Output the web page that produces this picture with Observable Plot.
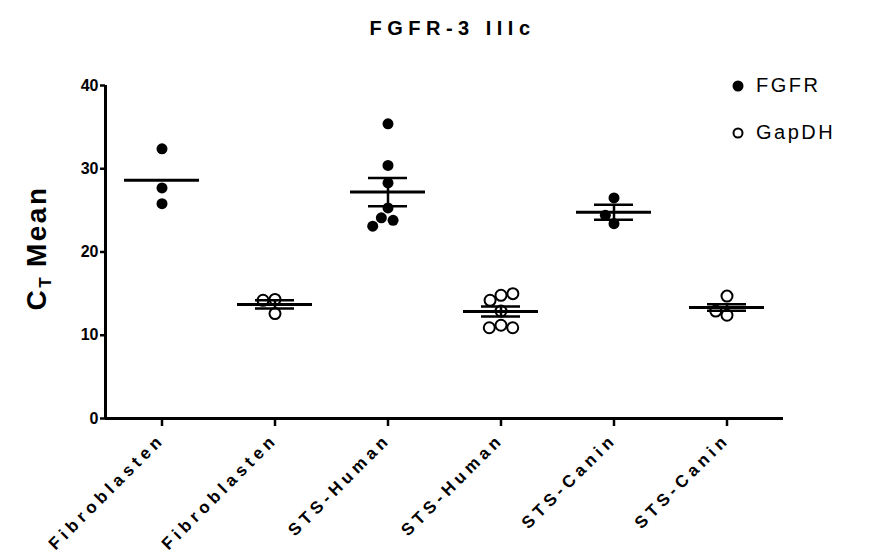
<!DOCTYPE html>
<html><head><meta charset="utf-8">
<script src="https://cdn.jsdelivr.net/npm/d3@7"></script>
<script src="https://cdn.jsdelivr.net/npm/@observablehq/plot@0.6"></script>
<style>
body{margin:0;background:#fff;font-family:"Liberation Sans",Arial,sans-serif;color:#000;}
#wrap{position:relative;width:869px;height:557px;overflow:hidden;background:#fff;}
#title{position:absolute;left:18px;width:869px;top:17px;text-align:center;font-weight:bold;font-size:20px;letter-spacing:5.5px;z-index:2;}
#chart{position:absolute;left:0;top:50px;z-index:1;}
#ylabel{position:absolute;left:38px;top:248px;transform:translate(-50%,-50%) rotate(-90deg);font-weight:bold;font-size:28px;letter-spacing:2.5px;white-space:nowrap;z-index:2;}
#ylabel sub{font-size:17px;vertical-align:-5px;letter-spacing:0;}
.leg{position:absolute;left:730px;font-size:20px;letter-spacing:2.5px;display:flex;align-items:center;z-index:2;}
.leg svg{margin-right:10px;}
#chart g[aria-label="fx-axis tick label"] text{letter-spacing:4.5px;}
</style></head>
<body><div id="wrap">
<div id="title">FGFR-3 IIIc</div>
<div id="ylabel">C<sub>T</sub> Mean</div>
<div id="chart"></div>
<div class="leg" style="top:74px"><svg width="16" height="22"><circle cx="8" cy="11" r="5.5" fill="black"/></svg>FGFR</div>
<div class="leg" style="top:121px"><svg width="16" height="22"><circle cx="8" cy="11" r="4.5" fill="white" stroke="black" stroke-width="2"/></svg>GapDH</div>
</div>
<script>
const categories = ["Fibroblasten","Fibroblasten","STS-Human","STS-Human","STS-Canin","STS-Canin"];
const seriesNames = ["FGFR","GapDH","FGFR","GapDH","FGFR","GapDH"];
const fibroFGFR = [32.4, 27.7, 25.8];
const fibroGapDH = [14.3, 14.2, 12.6];
const humanFGFR = [35.4, 30.4, 28.3, 25.3, 24.1, 23.8, 23.1];
const humanGapDH = [14.8, 14.2, 15.0, 12.9, 11.2, 10.9, 10.9];
const caninFGFR = [26.5, 23.4, 24.4];
const caninGapDH = [14.7, 12.4, 12.9];
const errorBars = [null, 0.5, 1.7, 0.6, 0.9, 0.4];
const yTicks = [0, 10, 20, 30, 40];

const groupValues = [fibroFGFR, fibroGapDH, humanFGFR, humanGapDH, caninFGFR, caninGapDH];
const points = groupValues.flatMap((vals, g) => vals.map(v => ({g, series: seriesNames[g], value: v})));
const summary = groupValues.map((vals, g) => ({g, mean: d3.mean(vals), err: errorBars[g]}));
const withErr = summary.filter(d => d.err != null);

const plot = Plot.plot({
  width: 869, height: 507,
  marginLeft: 103, marginRight: 84, marginTop: 35, marginBottom: 139,
  style: {fontFamily: "Liberation Sans, Arial, sans-serif", color: "black", background: "transparent"},
  fx: {domain: d3.range(6), padding: 0, axis: null},
  x: {domain: [0, 1], axis: null},
  y: {domain: [0, 40], axis: null},
  marks: [
    Plot.axisY({ticks: yTicks, tickSize: 5, tickPadding: 2, fontSize: 16, fontWeight: "bold", strokeWidth: 2.5, label: null}),
    Plot.ruleX([{g: 0, x: 0}], {fx: "g", x: "x", y1: 0, y2: 40, strokeWidth: 3}),
    Plot.axisFx({anchor: "bottom", tickRotate: -45, tickSize: 8, tickPadding: 10, fontSize: 17, fontWeight: "bold", strokeWidth: 2.5, label: null, tickFormat: i => categories[i]}),
    Plot.ruleY([0], {strokeWidth: 3}),
    Plot.dot(points.filter(d => d.series === "FGFR"), Plot.dodgeX("middle", {fx: "g", y: "value", r: 5.5, fill: "black", stroke: "none"})),
    Plot.dot(points.filter(d => d.series === "GapDH"), Plot.dodgeX("middle", {fx: "g", y: "value", r: 5.5, fill: "white", stroke: "black", strokeWidth: 2})),
    Plot.tickY(summary, {fx: "g", y: "mean", strokeWidth: 3, insetLeft: 19, insetRight: 19}),
    Plot.ruleX(withErr, {fx: "g", x: () => 0.5, y1: d => d.mean - d.err, y2: d => d.mean + d.err, strokeWidth: 2.5}),
    Plot.tickY(withErr, {fx: "g", y: d => d.mean + d.err, strokeWidth: 2.5, insetLeft: 37, insetRight: 37}),
    Plot.tickY(withErr, {fx: "g", y: d => d.mean - d.err, strokeWidth: 2.5, insetLeft: 37, insetRight: 37})
  ]
});
document.getElementById("chart").appendChild(plot);
</script>
</body></html>
